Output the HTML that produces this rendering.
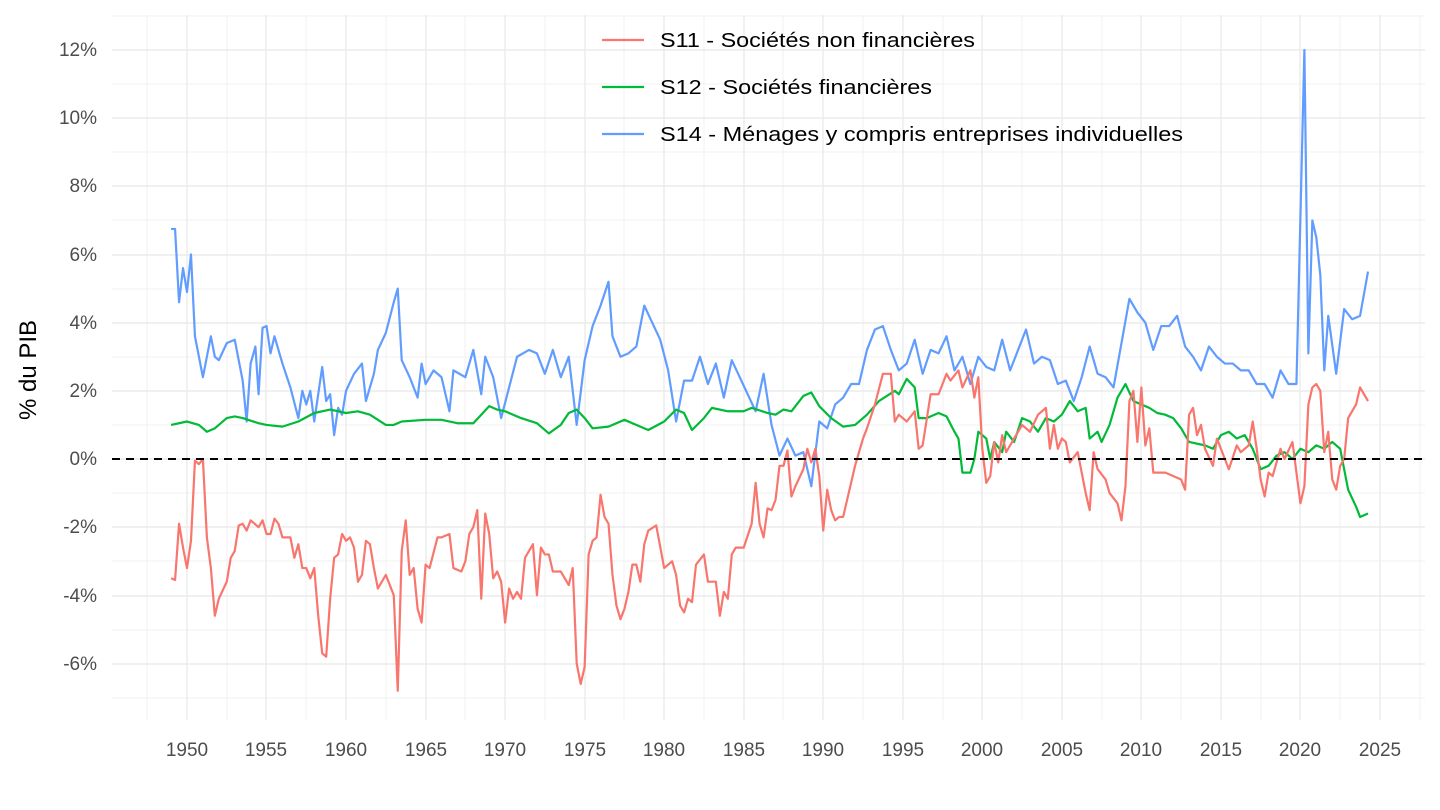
<!DOCTYPE html>
<html><head><meta charset="utf-8"><style>
html,body{margin:0;padding:0;background:#fff}
svg{display:block;font-family:"Liberation Sans",Arial,sans-serif}
</style></head><body>
<svg width="1440" height="810" viewBox="0 0 1440 810" xmlns="http://www.w3.org/2000/svg">
<rect width="1440" height="810" fill="#fff"/>
<g stroke="#f0f0f0" stroke-width="1">
<line x1="112" x2="1425" y1="16" y2="16"/><line x1="112" x2="1425" y1="84" y2="84"/><line x1="112" x2="1425" y1="152" y2="152"/><line x1="112" x2="1425" y1="220" y2="220"/><line x1="112" x2="1425" y1="289" y2="289"/><line x1="112" x2="1425" y1="357" y2="357"/><line x1="112" x2="1425" y1="425" y2="425"/><line x1="112" x2="1425" y1="493" y2="493"/><line x1="112" x2="1425" y1="561" y2="561"/><line x1="112" x2="1425" y1="630" y2="630"/><line x1="112" x2="1425" y1="698" y2="698"/>
<line y1="15" y2="720" x1="147" x2="147"/><line y1="15" y2="720" x1="227" x2="227"/><line y1="15" y2="720" x1="306" x2="306"/><line y1="15" y2="720" x1="386" x2="386"/><line y1="15" y2="720" x1="465" x2="465"/><line y1="15" y2="720" x1="545" x2="545"/><line y1="15" y2="720" x1="624" x2="624"/><line y1="15" y2="720" x1="704" x2="704"/><line y1="15" y2="720" x1="783" x2="783"/><line y1="15" y2="720" x1="863" x2="863"/><line y1="15" y2="720" x1="943" x2="943"/><line y1="15" y2="720" x1="1022" x2="1022"/><line y1="15" y2="720" x1="1102" x2="1102"/><line y1="15" y2="720" x1="1181" x2="1181"/><line y1="15" y2="720" x1="1261" x2="1261"/><line y1="15" y2="720" x1="1340" x2="1340"/><line y1="15" y2="720" x1="1420" x2="1420"/>
</g>
<g stroke="#ebebeb" stroke-width="1.4">
<line x1="112" x2="1425" y1="50" y2="50"/><line x1="112" x2="1425" y1="118" y2="118"/><line x1="112" x2="1425" y1="186" y2="186"/><line x1="112" x2="1425" y1="255" y2="255"/><line x1="112" x2="1425" y1="323" y2="323"/><line x1="112" x2="1425" y1="391" y2="391"/><line x1="112" x2="1425" y1="459" y2="459"/><line x1="112" x2="1425" y1="527" y2="527"/><line x1="112" x2="1425" y1="596" y2="596"/><line x1="112" x2="1425" y1="664" y2="664"/>
<line y1="15" y2="720" x1="187" x2="187"/><line y1="15" y2="720" x1="266" x2="266"/><line y1="15" y2="720" x1="346" x2="346"/><line y1="15" y2="720" x1="426" x2="426"/><line y1="15" y2="720" x1="505" x2="505"/><line y1="15" y2="720" x1="585" x2="585"/><line y1="15" y2="720" x1="664" x2="664"/><line y1="15" y2="720" x1="744" x2="744"/><line y1="15" y2="720" x1="823" x2="823"/><line y1="15" y2="720" x1="903" x2="903"/><line y1="15" y2="720" x1="982" x2="982"/><line y1="15" y2="720" x1="1062" x2="1062"/><line y1="15" y2="720" x1="1141" x2="1141"/><line y1="15" y2="720" x1="1221" x2="1221"/><line y1="15" y2="720" x1="1300" x2="1300"/><line y1="15" y2="720" x1="1380" x2="1380"/>
</g>
<g fill="#4d4d4d" font-size="19" text-anchor="end">
<text x="97" y="56">12%</text><text x="97" y="124">10%</text><text x="97" y="192">8%</text><text x="97" y="261">6%</text><text x="97" y="329">4%</text><text x="97" y="397">2%</text><text x="97" y="465">0%</text><text x="97" y="533">-2%</text><text x="97" y="602">-4%</text><text x="97" y="670">-6%</text>
</g>
<g fill="#4d4d4d" font-size="19" text-anchor="middle">
<text x="187" y="756">1950</text><text x="266" y="756">1955</text><text x="346" y="756">1960</text><text x="426" y="756">1965</text><text x="505" y="756">1970</text><text x="585" y="756">1975</text><text x="664" y="756">1980</text><text x="744" y="756">1985</text><text x="823" y="756">1990</text><text x="903" y="756">1995</text><text x="982" y="756">2000</text><text x="1062" y="756">2005</text><text x="1141" y="756">2010</text><text x="1221" y="756">2015</text><text x="1300" y="756">2020</text><text x="1380" y="756">2025</text>
</g>
<text transform="translate(36,370) rotate(-90)" font-size="24" text-anchor="middle" fill="#000">% du PIB</text>
<g transform="matrix(15.906,0,0,-34.083,187,459)" fill="none" stroke-width="2.2" stroke-linejoin="round">
<polyline vector-effect="non-scaling-stroke" stroke="#619CFF" points="-1,6.75 -0.75,6.75 -0.5,4.6 -0.25,5.6 0,4.9 0.25,6 0.5,3.6 1,2.4 1.5,3.6 1.75,3 2,2.9 2.5,3.4 3,3.5 3.5,2.3 3.75,1.1 4,2.8 4.3,3.3 4.5,1.9 4.75,3.85 5,3.9 5.25,3.1 5.5,3.6 6,2.8 6.5,2.1 7,1.2 7.25,2 7.5,1.6 7.75,2 8,1.1 8.5,2.7 8.75,1.7 9,1.9 9.25,0.7 9.5,1.5 9.75,1.3 10,2 10.5,2.5 11,2.8 11.25,1.7 11.75,2.5 12,3.2 12.5,3.7 13,4.6 13.25,5 13.5,2.9 14,2.4 14.5,1.8 14.75,2.8 15,2.2 15.5,2.6 16,2.4 16.5,1.4 16.75,2.6 17.5,2.4 18,3.2 18.5,1.9 18.75,3 19.25,2.4 19.75,1.2 20.25,2.1 20.75,3 21.5,3.2 22,3.1 22.5,2.5 23,3.2 23.5,2.4 24,3 24.5,1 25,2.9 25.5,3.9 26,4.5 26.5,5.2 26.75,3.6 27.25,3 27.75,3.1 28.25,3.3 28.75,4.5 29.25,4 29.75,3.5 30.25,2.6 30.75,1.1 31.25,2.3 31.75,2.3 32.25,3 32.75,2.2 33.25,2.8 33.75,1.8 34.25,2.9 34.75,2.4 35.25,1.9 35.75,1.4 36.25,2.5 36.75,1 37.25,0.1 37.75,0.6 38.25,0.1 38.75,0.2 39.25,-0.8 39.75,1.1 40.25,0.9 40.75,1.6 41.25,1.8 41.75,2.2 42.25,2.2 42.75,3.2 43.25,3.8 43.75,3.9 44.25,3.2 44.75,2.6 45.25,2.8 45.75,3.5 46.25,2.5 46.75,3.2 47.25,3.1 47.75,3.6 48.25,2.6 48.75,3 49.25,2.2 49.75,3 50.25,2.7 50.75,2.6 51.25,3.5 51.75,2.6 52.25,3.2 52.75,3.8 53.25,2.8 53.75,3 54.25,2.9 54.75,2.2 55.25,2.3 55.75,1.7 56.25,2.4 56.75,3.3 57.25,2.5 57.75,2.4 58.25,2.1 58.75,3.4 59.25,4.7 59.75,4.3 60.25,4 60.75,3.2 61.25,3.9 61.75,3.9 62.25,4.2 62.75,3.3 63.25,3 63.75,2.6 64.25,3.3 64.75,3 65.25,2.8 65.75,2.8 66.25,2.6 66.75,2.6 67.25,2.2 67.75,2.2 68.25,1.8 68.75,2.6 69.25,2.2 69.75,2.2 70.25,12 70.5,3.1 70.75,7 71,6.5 71.25,5.4 71.5,2.6 71.75,4.2 72.25,2.5 72.75,4.4 73.25,4.1 73.75,4.2 74.25,5.5"/>
<polyline vector-effect="non-scaling-stroke" stroke="#00BA38" points="-1,1 0,1.1 0.75,1 1.25,0.8 1.75,0.9 2.5,1.2 3,1.25 3.5,1.2 4.5,1.05 5,1 6,0.95 7,1.1 8,1.35 9,1.45 10,1.35 10.75,1.4 11.5,1.3 12.5,1 13,1 13.5,1.1 15,1.15 16,1.15 17,1.05 18,1.05 18.5,1.3 19,1.55 19.5,1.45 20,1.4 21,1.2 22,1.05 22.75,0.75 23.5,1 24,1.35 24.5,1.45 25,1.2 25.5,0.9 26.5,0.95 27.5,1.15 28.5,0.95 29,0.85 30,1.1 30.75,1.45 31.25,1.35 31.75,0.85 32.5,1.2 33,1.5 34,1.4 35,1.4 35.5,1.5 36.5,1.35 37,1.3 37.5,1.45 38,1.4 38.75,1.85 39.25,1.95 39.75,1.55 40.5,1.2 41.25,0.95 42,1 42.75,1.3 43.5,1.7 44.5,2 44.75,1.9 45.25,2.35 45.75,2.1 46,1.2 46.5,1.2 47.25,1.35 47.75,1.25 48.25,0.8 48.5,0.6 48.75,-0.4 49.25,-0.4 49.5,0 49.75,0.8 50.25,0.6 50.5,0 50.75,0.5 51.25,0.2 51.5,0.8 52,0.5 52.5,1.2 53,1.1 53.5,0.8 54,1.2 54.5,1.1 55,1.3 55.5,1.7 56,1.4 56.5,1.5 56.75,0.6 57.25,0.8 57.5,0.5 58,1 58.5,1.8 59,2.2 59.5,1.7 60,1.6 60.5,1.5 61,1.35 61.5,1.3 62,1.2 62.5,0.9 63,0.5 64,0.4 64.5,0.3 65,0.7 65.5,0.8 66,0.6 66.5,0.7 67,0.3 67.5,-0.3 68,-0.2 68.5,0.1 69,0.2 69.5,0 70,0.3 70.5,0.2 71,0.4 71.5,0.3 72,0.5 72.5,0.3 73,-0.9 73.5,-1.4 73.75,-1.7 74.25,-1.6"/>
<polyline vector-effect="non-scaling-stroke" stroke="#F8766D" points="-1,-3.5 -0.75,-3.55 -0.5,-1.9 -0.25,-2.6 0,-3.2 0.25,-2.4 0.5,-0.05 0.75,-0.15 1,0 1.25,-2.3 1.5,-3.2 1.75,-4.6 2,-4.1 2.5,-3.6 2.75,-2.9 3,-2.7 3.25,-1.95 3.5,-1.9 3.75,-2.1 4,-1.8 4.5,-2 4.75,-1.8 5,-2.2 5.25,-2.2 5.5,-1.75 5.75,-1.9 6,-2.3 6.5,-2.3 6.75,-2.9 7,-2.5 7.25,-3.2 7.5,-3.2 7.75,-3.5 8,-3.2 8.25,-4.6 8.5,-5.7 8.75,-5.8 9,-4.1 9.25,-2.9 9.5,-2.8 9.75,-2.2 10,-2.4 10.25,-2.3 10.5,-2.6 10.75,-3.6 11,-3.4 11.25,-2.4 11.5,-2.5 11.75,-3.2 12,-3.8 12.5,-3.4 13,-4 13.25,-6.8 13.5,-2.7 13.75,-1.8 14,-3.4 14.25,-3.2 14.5,-4.4 14.75,-4.8 15,-3.1 15.25,-3.2 15.75,-2.3 16,-2.3 16.5,-2.2 16.75,-3.2 17.25,-3.3 17.5,-3 17.75,-2.2 18,-2 18.25,-1.5 18.5,-4.1 18.75,-1.6 19,-2.2 19.25,-3.5 19.5,-3.3 19.75,-3.6 20,-4.8 20.25,-3.8 20.5,-4.1 20.75,-3.9 21,-4.1 21.25,-2.9 21.5,-2.7 21.75,-2.5 22,-4 22.25,-2.6 22.5,-2.8 22.75,-2.8 23,-3.3 23.5,-3.3 23.75,-3.5 24,-3.7 24.25,-3.2 24.5,-6 24.75,-6.6 25,-6.1 25.25,-2.8 25.5,-2.4 25.75,-2.3 26,-1.05 26.25,-1.7 26.5,-1.9 26.75,-3.4 27,-4.3 27.25,-4.7 27.5,-4.4 27.75,-3.9 28,-3.1 28.25,-3.1 28.5,-3.6 28.75,-2.5 29,-2.1 29.5,-1.95 30,-3.2 30.25,-3.1 30.5,-3 30.75,-3.4 31,-4.3 31.25,-4.5 31.5,-4.1 31.75,-4.2 32,-3.1 32.5,-2.8 32.75,-3.6 33.25,-3.6 33.5,-4.6 33.75,-3.9 34,-4.1 34.25,-2.8 34.5,-2.6 35,-2.6 35.5,-1.9 35.75,-0.7 36,-1.9 36.25,-2.3 36.5,-1.45 36.75,-1.5 37,-1.2 37.25,-0.2 37.5,-0.2 37.75,0.25 38,-1.1 38.25,-0.8 38.75,-0.3 39,0.3 39.25,-0.1 39.5,0.3 39.75,-0.5 40,-2.1 40.25,-0.9 40.5,-1.5 40.75,-1.8 41,-1.7 41.25,-1.7 41.75,-0.7 42,-0.2 42.5,0.6 42.75,0.9 43.25,1.6 43.75,2.5 44.25,2.5 44.5,1.1 44.75,1.3 45,1.2 45.25,1.1 45.75,1.4 46,0.3 46.25,0.4 46.75,1.9 47.25,1.9 47.75,2.5 48,2.3 48.5,2.6 48.75,2.1 49.25,2.6 49.5,1.8 49.75,2.4 50,0.3 50.25,-0.7 50.5,-0.5 50.75,0.5 51,-0.1 51.25,0.7 51.5,0.2 52,0.6 52.5,1 53,0.8 53.5,1.3 54,1.5 54.25,0.3 54.5,1 54.75,0.3 55,0.6 55.25,0.5 55.5,-0.1 56,0.2 56.5,-1 56.75,-1.5 57,0.2 57.25,-0.3 57.75,-0.6 58,-1 58.5,-1.3 58.75,-1.8 59,-0.8 59.25,1.7 59.5,2 59.75,0.5 60,2.1 60.25,0.4 60.5,0.9 60.75,-0.4 61.25,-0.4 61.5,-0.4 62,-0.5 62.5,-0.6 62.75,-0.9 63,1.3 63.25,1.5 63.5,0.7 63.75,1 64,0.3 64.5,-0.2 64.75,0.6 65,0.3 65.5,-0.3 66,0.4 66.25,0.2 66.75,0.4 67,1.1 67.25,0.3 67.5,-0.6 67.75,-1.1 68,-0.4 68.25,-0.5 68.75,0.3 69,0 69.5,0.5 70,-1.3 70.25,-0.8 70.5,1.6 70.75,2.1 71,2.2 71.25,2 71.5,0.2 71.75,0.8 72,-0.6 72.25,-0.9 72.5,-0.2 72.75,0 73,1.2 73.5,1.6 73.75,2.1 74.25,1.7"/>
</g>
<line x1="112" x2="1425" y1="459" y2="459" stroke="#000" stroke-width="2" stroke-dasharray="8,6"/>
<g stroke-width="2.2">
<line x1="602" x2="644" y1="40" y2="40" stroke="#F8766D"/>
<line x1="602" x2="644" y1="87" y2="87" stroke="#00BA38"/>
<line x1="602" x2="644" y1="134" y2="134" stroke="#619CFF"/>
</g>
<g font-size="20" fill="#000">
<text x="660" y="47" textLength="315" lengthAdjust="spacingAndGlyphs">S11 - Sociétés non financières</text>
<text x="660" y="94" textLength="272" lengthAdjust="spacingAndGlyphs">S12 - Sociétés financières</text>
<text x="660" y="141" textLength="523" lengthAdjust="spacingAndGlyphs">S14 - Ménages y compris entreprises individuelles</text>
</g>
</svg>
</body></html>
